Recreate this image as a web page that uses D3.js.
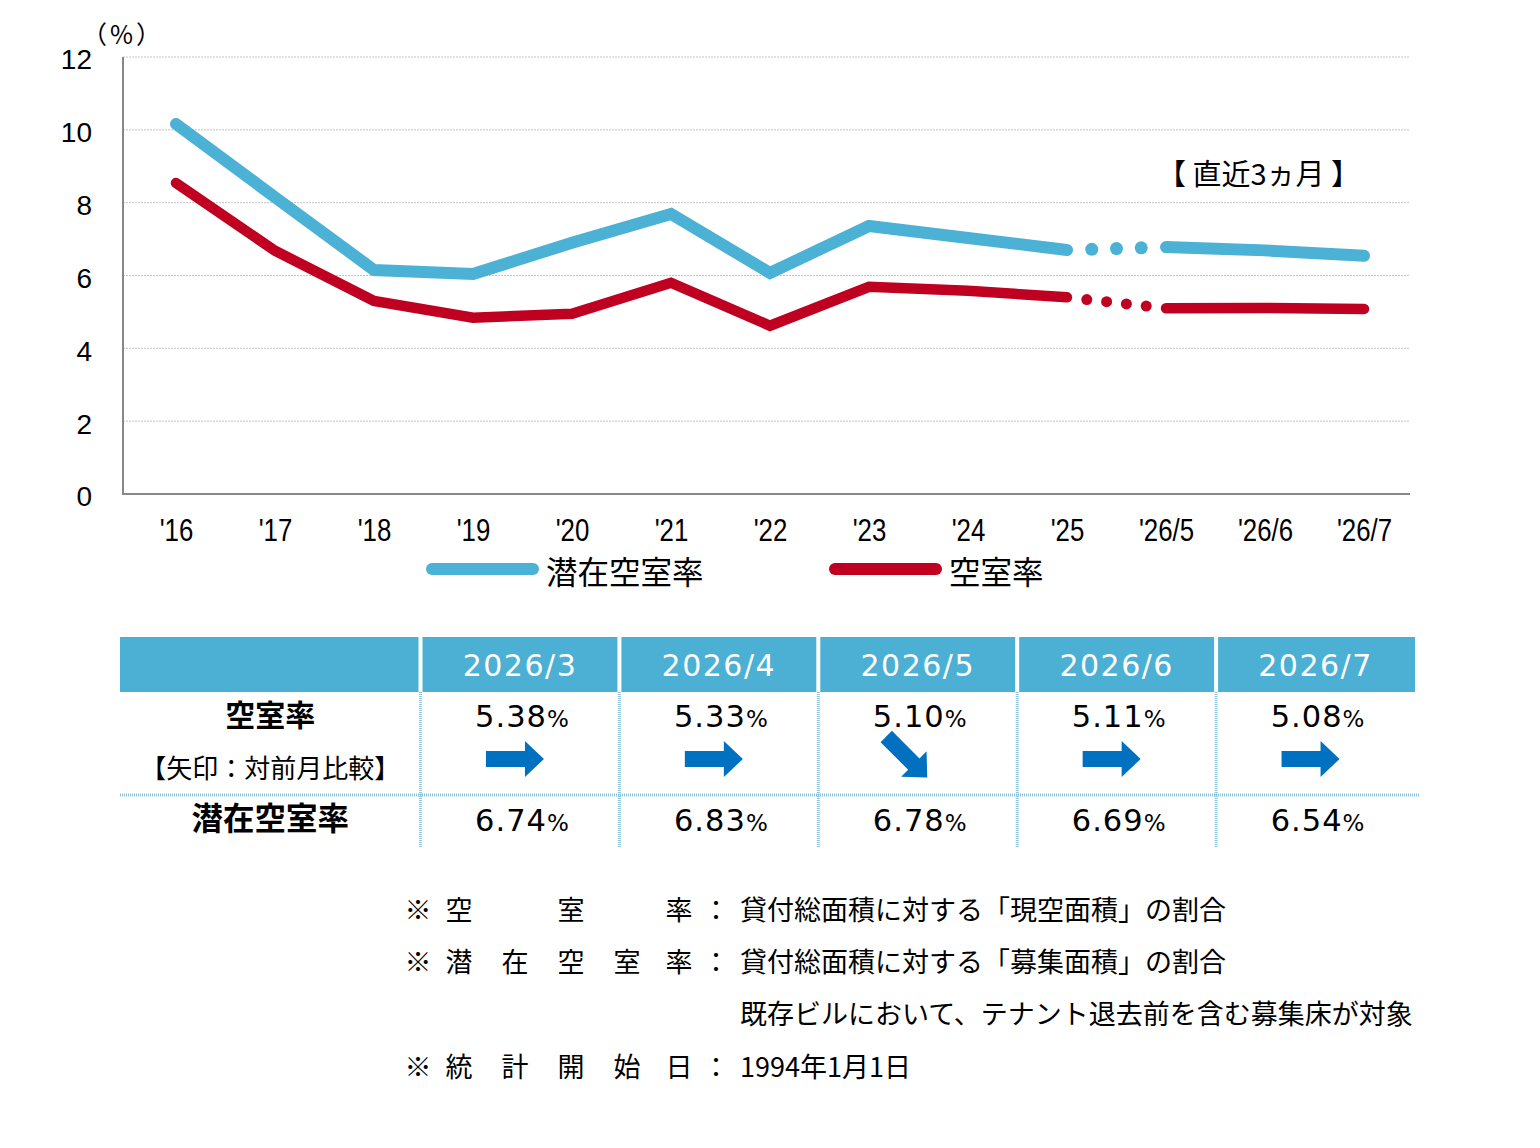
<!DOCTYPE html>
<html>
<head>
<meta charset="utf-8">
<script src="https://cdn.jsdelivr.net/npm/d3@7"></script>
<style>
  body { margin: 0; background: #fff; }
  svg { display: block; }
</style>
</head>
<body>
<svg id="chart" width="1540" height="1148"></svg>
<script>
// categories along the x axis
const years = ["'16", "'17", "'18", "'19", "'20", "'21", "'22", "'23", "'24", "'25", "'26/5", "'26/6", "'26/7"];
// 潜在空室率 (potential vacancy), %
const potential = [10.16, 8.15, 6.15, 6.04, 6.90, 7.69, 6.07, 7.36, 7.03, 6.70, 6.78, 6.69, 6.54];
// 空室率 (vacancy), %
const vacancy = [8.54, 6.68, 5.30, 4.84, 4.95, 5.80, 4.62, 5.69, 5.58, 5.40, 5.10, 5.11, 5.08];
const yTicks = [0, 2, 4, 6, 8, 10, 12];
const splitAt = 9; // last annual point, monthly points start after it

// table
const months = ["2026/3", "2026/4", "2026/5", "2026/6", "2026/7"];
const monthVacancy = ["5.38", "5.33", "5.10", "5.11", "5.08"];
const monthPotential = ["6.74", "6.83", "6.78", "6.69", "6.54"];
const monthTrend = ["flat", "flat", "down", "flat", "flat"];

// notes
const notes = [
  { label: ["空", "", "室", "", "率"], text: "貸付総面積に対する「現空面積」の割合" },
  { label: ["潜", "在", "空", "室", "率"], text: "貸付総面積に対する「募集面積」の割合" },
  { label: null, text: "既存ビルにおいて、テナント退去前を含む募集床が対象" },
  { label: ["統", "計", "開", "始", "日"], text: "1994年1月1日" }
];

const BLUE = "#4bb1d5";
const RED = "#bf0020";
const ARROW = "#0070c0";
const JP = "'Noto Sans CJK JP', 'Noto Sans', sans-serif";
const LAT = "'Liberation Sans', 'Noto Sans', sans-serif";
const NUM = "'DejaVu Sans', 'Noto Sans', sans-serif";

const svg = d3.select("#chart");

// ---------- line chart ----------
const plotLeft = 123, plotRight = 1410, plotTop = 57, plotBottom = 494;

const x = d3.scalePoint().domain(years).range([176, 1364]);
const y = d3.scaleLinear().domain([0, 12]).range([plotBottom, plotTop]);

// gridlines
svg.append("g")
  .selectAll("line")
  .data(yTicks.filter(d => d > 0))
  .join("line")
  .attr("x1", plotLeft).attr("x2", plotRight)
  .attr("y1", d => y(d)).attr("y2", d => y(d))
  .attr("stroke", "#c4c4c4")
  .attr("stroke-width", 1)
  .attr("stroke-dasharray", "2,1");

// y axis labels
const yAxis = svg.append("g")
  .attr("transform", `translate(${plotLeft},3)`)
  .call(d3.axisLeft(y).tickValues(yTicks).tickSize(0).tickPadding(31));
yAxis.select(".domain").remove();
yAxis.selectAll("text")
  .attr("font-family", LAT)
  .attr("font-size", 28)
  .attr("fill", "#000");

// x axis labels (condensed look)
const xAxis = svg.append("g")
  .attr("transform", `translate(0,${plotBottom})`)
  .call(d3.axisBottom(x).tickSize(0).tickPadding(25));
xAxis.select(".domain").remove();
xAxis.selectAll("text")
  .attr("font-family", LAT)
  .attr("font-size", 31.5)
  .attr("transform", "scale(0.82,1)")
  .attr("fill", "#000");

// axis frame lines
svg.append("path")
  .attr("d", `M${plotLeft},${plotTop}V${plotBottom}H${plotRight}`)
  .attr("fill", "none")
  .attr("stroke", "#888")
  .attr("stroke-width", 2);

// unit label
svg.append("text")
  .attr("x", 82).attr("y", 44)
  .attr("font-family", JP)
  .attr("font-size", 25)
  .attr("letter-spacing", 3)
  .text("（%）");

// period label
svg.append("text")
  .attr("x", 1157).attr("y", 185)
  .attr("font-family", JP)
  .attr("font-size", 29)
  .text("【 直近3ヵ月 】");

const line = d3.line()
  .x(d => x(d.year))
  .y(d => y(d.value));

function drawSeries(values, color, width, nDots, dotR) {
  const pts = values.map((v, i) => ({ year: years[i], value: v }));
  const g = svg.append("g");
  [pts.slice(0, splitAt + 1), pts.slice(splitAt + 1)].forEach(seg => {
    g.append("path")
      .datum(seg)
      .attr("d", line)
      .attr("fill", "none")
      .attr("stroke", color)
      .attr("stroke-width", width)
      .attr("stroke-linecap", "round")
      .attr("stroke-linejoin", "miter");
  });
  // dotted connector between annual and monthly series
  const a = pts[splitAt], b = pts[splitAt + 1];
  const dots = d3.range(1, nDots + 1).map(i => i / (nDots + 1));
  g.selectAll("circle")
    .data(dots)
    .join("circle")
    .attr("cx", t => x(a.year) + (x(b.year) - x(a.year)) * t)
    .attr("cy", t => y(a.value + (b.value - a.value) * t))
    .attr("r", dotR)
    .attr("fill", color);
}

drawSeries(potential, BLUE, 12, 3, 6.5);
drawSeries(vacancy, RED, 10.5, 4, 5.5);

// legend
const legend = [
  { name: "潜在空室率", color: BLUE, x: 432 },
  { name: "空室率", color: RED, x: 835 }
];
const lg = svg.append("g").selectAll("g").data(legend).join("g");
lg.append("line")
  .attr("x1", d => d.x).attr("x2", d => d.x + 101)
  .attr("y1", 569).attr("y2", 569)
  .attr("stroke", d => d.color)
  .attr("stroke-width", 12)
  .attr("stroke-linecap", "round");
lg.append("text")
  .attr("x", d => d.x + 114).attr("y", 584)
  .attr("font-family", JP)
  .attr("font-size", 31.5)
  .text(d => d.name);

// ---------- table ----------
const tLeft = 120, tRight = 1415, firstCol = 420.5;
const colX = d3.scaleBand().domain(months).range([firstCol, tRight]);
const hTop = 637, hBottom = 692, rowSplit = 795, tBottom = 848;
const labelCx = (tLeft + firstCol) / 2;

const table = svg.append("g");

table.append("rect")
  .attr("x", tLeft).attr("y", hTop)
  .attr("width", tRight - tLeft).attr("height", hBottom - hTop)
  .attr("fill", "#4bb0d4");

// white separators in header
table.selectAll(".hsep")
  .data(months)
  .join("line")
  .attr("class", "hsep")
  .attr("x1", d => colX(d)).attr("x2", d => colX(d))
  .attr("y1", hTop).attr("y2", hBottom)
  .attr("stroke", "#fff")
  .attr("stroke-width", 4);

// dotted inner borders
table.selectAll(".vsep")
  .data(months)
  .join("line")
  .attr("class", "vsep")
  .attr("x1", d => colX(d)).attr("x2", d => colX(d))
  .attr("y1", hBottom).attr("y2", tBottom)
  .attr("stroke", "#8ec5db")
  .attr("stroke-width", 3)
  .attr("stroke-dasharray", "1,1");

table.append("line")
  .attr("x1", tLeft).attr("x2", tRight + 5)
  .attr("y1", rowSplit).attr("y2", rowSplit)
  .attr("stroke", "#8ec5db")
  .attr("stroke-width", 3)
  .attr("stroke-dasharray", "1,1");

// header text
table.selectAll(".htext")
  .data(months)
  .join("text")
  .attr("class", "htext")
  .attr("x", d => colX(d) + colX.bandwidth() / 2)
  .attr("y", 676)
  .attr("text-anchor", "middle")
  .attr("font-family", NUM)
  .attr("font-size", 30)
  .attr("letter-spacing", 1.5)
  .attr("fill", "#fff")
  .text(d => d);

// row labels
table.append("text")
  .attr("x", labelCx).attr("y", 726)
  .attr("text-anchor", "middle")
  .attr("font-family", JP).attr("font-weight", 700)
  .attr("font-size", 30)
  .text("空室率");
table.append("text")
  .attr("x", labelCx).attr("y", 778)
  .attr("text-anchor", "middle")
  .attr("font-family", JP)
  .attr("font-size", 26)
  .text("【矢印：対前月比較】");
table.append("text")
  .attr("x", labelCx).attr("y", 830)
  .attr("text-anchor", "middle")
  .attr("font-family", JP).attr("font-weight", 700)
  .attr("font-size", 31.5)
  .text("潜在空室率");

function valueCells(values, baseline) {
  const t = table.selectAll(null)
    .data(values)
    .join("text")
    .attr("x", (d, i) => colX(months[i]) + colX.bandwidth() / 2 + 2)
    .attr("y", baseline)
    .attr("text-anchor", "middle")
    .attr("font-family", NUM)
    .attr("fill", "#000");
  t.append("tspan").attr("font-size", 30.5).attr("letter-spacing", 1).text(d => d);
  t.append("tspan").attr("font-size", 23).text("%");
}
valueCells(monthVacancy, 727);
valueCells(monthPotential, 831);

// trend arrows
const arrowPath = "M-29,-8H10V-18L29,0L10,18V8H-29Z";
table.selectAll(".arrow")
  .data(monthTrend)
  .join("path")
  .attr("class", "arrow")
  .attr("d", arrowPath)
  .attr("fill", ARROW)
  .attr("transform", (d, i) => {
    const cx = colX(months[i]) + colX.bandwidth() / 2 - 5;
    return d === "down"
      ? `translate(${cx - 6},757) rotate(45)`
      : `translate(${cx},759)`;
  });

// ---------- notes ----------
const labelPos = [459, 515, 571, 627, 679];
const noteY = [920, 972, 1024, 1077];
const ng = svg.append("g")
  .attr("font-family", JP)
  .attr("font-size", 27)
  .attr("fill", "#000");

notes.forEach((n, i) => {
  if (n.label) {
    ng.append("text").attr("x", 418).attr("y", noteY[i])
      .attr("text-anchor", "middle").text("※");
    n.label.forEach((c, j) => {
      if (!c) return;
      ng.append("text").attr("x", labelPos[j]).attr("y", noteY[i])
        .attr("text-anchor", "middle").text(c);
    });
    ng.append("text").attr("x", 716).attr("y", noteY[i])
      .attr("text-anchor", "middle").text("：");
  }
  ng.append("text").attr("x", 740).attr("y", noteY[i]).text(n.text);
});
</script>
</body>
</html>
